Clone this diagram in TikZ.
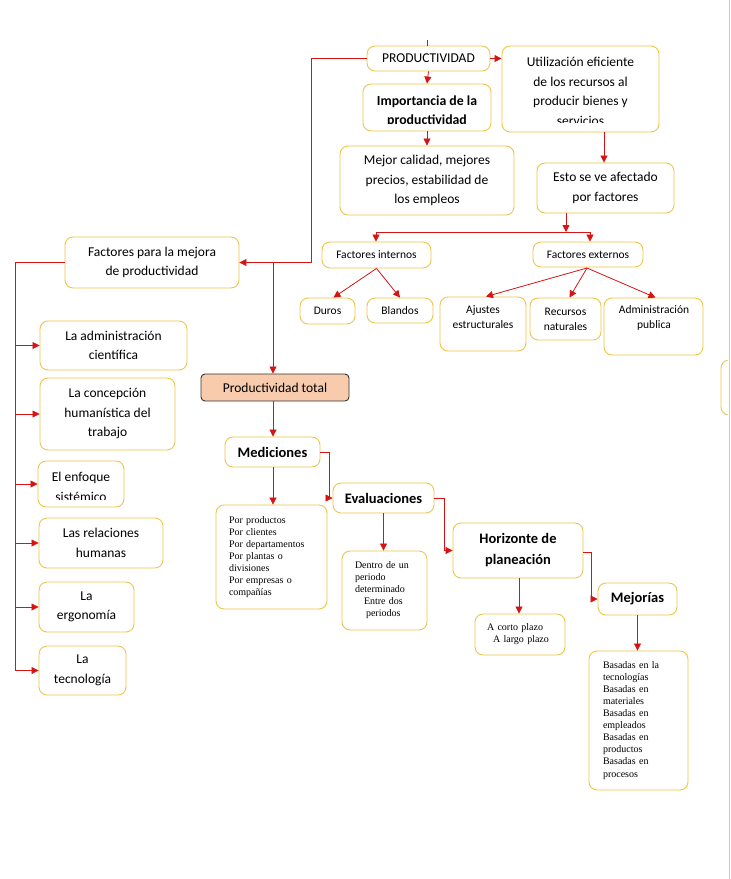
\documentclass[tikz,border=0pt]{standalone}
\usepackage{fontspec}
\setmainfont{Carlito}
\newfontfamily\tms{Liberation Serif}
\usetikzlibrary{arrows.meta,calc}
\definecolor{boxc}{RGB}{238,198,72}
\definecolor{redc}{RGB}{214,20,20}
\definecolor{peach}{RGB}{248,203,173}
\definecolor{edgegray}{RGB}{200,200,200}
\newcommand\fN{\fontsize{13.5}{19.5}\selectfont}
\newcommand\fS{\fontsize{11.5}{15}\selectfont}
\newcommand\fB{\fontsize{14.5}{21}\selectfont\bfseries}
\newcommand\fI{\fontsize{13.8}{19}\selectfont\bfseries}
\newcommand\fT{\tms\fontsize{10}{12}\selectfont}
\newcommand\bx[7]{\node[box,#6,minimum width={#4-#2},minimum height={#5-#3}] (#1) at ({(#2+#4)/2},{(#3+#5)/2}) {#7};}
\tikzset{
  box/.style={draw=boxc, rounded corners=8pt, line width=0.9pt, fill=white, inner sep=0pt, align=center, font=\fN},
  ptbox/.style={draw=black!80, fill=peach, rounded corners=4pt, line width=0.9pt},
  lbl/.style={inner sep=0pt, align=center},
  serif/.style={font=\fT, align=left, inner xsep=#1},
  ln/.style={draw=redc, line width=0.8pt},
  arr/.style={draw=redc, line width=0.8pt, -{Triangle[length=7pt,width=7pt]}}
}
\begin{document}
\begin{tikzpicture}[x=1pt,y=-1pt]
\useasboundingbox (0,0) rectangle (731,879);
\fill[white] (0,0) rectangle (731,879);
\draw[edgegray, line width=1pt] (729.5,0) -- (729.5,879);

% top
\bx{prod}{367}{46}{490}{71}{}{PRODUCTIVIDAD}
\coordinate (tick) at (427,40);
\draw[ln] (tick) -- (prod.north -| tick);

\bx{imp}{363}{84}{491}{131}{}{}
\begin{scope}
\clip (363,84) rectangle (491,123.5);
\node[lbl,font=\fI] (impt) at (427,111) {Importancia de la\\productividad};
\end{scope}

\bx{util}{502}{46}{659}{132}{}{}
\begin{scope}
\clip (502,46) rectangle (659,122.5);
\node[lbl,font=\fN] (utilt) at (580.5,91.5) {Utilización eficiente\\de los recursos al\\producir bienes y\\servicios};
\end{scope}

\bx{mej}{340}{146}{514}{215}{}{Mejor calidad, mejores\\precios, estabilidad de\\los empleos}
\bx{esto}{537}{163}{674}{213}{}{Esto se ve afectado\\por factores}

\bx{fact}{65}{237}{239}{288}{}{Factores para la mejora\\de productividad}

\bx{fint}{322}{242}{431}{268}{font=\fS}{Factores internos}
\bx{fext}{533}{242}{643}{267}{font=\fS}{Factores externos}

\bx{duros}{300}{298}{355}{324}{font=\fS}{Duros}
\bx{blandos}{367}{298}{433}{323}{font=\fS}{Blandos}
\bx{ajus}{440}{297}{526}{351}{}{}
\node[lbl,font=\fS,anchor=north] (ajust) at (483,305) {Ajustes\\estructurales};
\bx{recu}{530}{298}{601}{340}{font=\fS}{Recursos\\naturales}
\bx{admp}{604}{298}{703}{355}{}{}
\node[lbl,font=\fS,anchor=north] (admpt) at (654,305) {Administración\\publica};

% partial box at right edge
\begin{scope}
\clip (700,350) rectangle (727.5,420);
\node[box,minimum width=40,minimum height=55] (part) at (741,387.5) {};
\end{scope}

% left column
\bx{la}{40}{321}{187}{370}{}{La administración\\científica}
\bx{lb}{40}{378}{175}{450}{}{La concepción\\humanística del\\trabajo}
\bx{lc}{38}{461}{124}{507}{}{}
\begin{scope}
\clip (38,461) rectangle (124,499.5);
\node[lbl,font=\fN] (lct) at (81,487) {El enfoque\\sistémico};
\end{scope}
\bx{ld}{39}{518}{163}{568}{}{Las relaciones\\humanas}
\bx{le}{39}{582}{134}{632}{}{La\\ergonomía}
\bx{lf}{39}{646}{126}{695}{}{La\\tecnología}

% middle
\node[ptbox,minimum width=148,minimum height=27,inner sep=0pt,font=\fN] (pt) at (275,387.5) {Productividad total};
\bx{medi}{225}{437}{320}{467}{font=\fB}{Mediciones}
\bx{eval}{333}{483}{434}{513}{font=\fB}{Evaluaciones}
\bx{hori}{453}{523}{583}{578}{font=\fB}{Horizonte de\\planeación}
\bx{mejo}{598}{583}{677}{615}{font=\fB}{Mejorías}

\bx{porp}{216}{505}{327}{609}{serif=13pt,text width=85pt}{Por productos\\Por clientes\\Por departamentos\\Por plantas o\\divisiones\\Por empresas o\\compañías}
\bx{dent}{342}{551}{427}{630}{serif=13pt,text width=59pt}{Dentro de un\\periodo\\determinado\\\hspace*{9pt}Entre dos\\\hspace*{11pt}periodos}
\bx{acor}{475}{614}{565}{655}{serif=12pt,text width=66pt}{A corto plazo\\\hspace*{6pt}A largo plazo}
\bx{basa}{589}{651}{688}{790}{serif=14pt,text width=71pt}{Basadas en la\\tecnologías\\Basadas en\\materiales\\Basadas en\\empleados\\Basadas en\\productos\\Basadas en\\[1pt]procesos}

% connectors top
\draw[arr] (prod.east) -- (util.west |- prod.east);
\draw[arr] (prod.south) -- (imp.north);
\draw[arr] (imp.south) -- (mej.north);
\coordinate (cu) at (604,0);
\draw[arr] (util.south -| cu) -- (esto.north -| cu);
\coordinate (j3) at (566,232);
\coordinate (ja) at (376,232);
\coordinate (jb) at (590,232);
\draw[arr] (esto.south -| j3) -- (j3);
\draw[ln] (ja) -- (jb);
\draw[arr] (ja) -- (fint.north -| ja);
\draw[arr] (jb) -- (fext.north -| jb);
\draw[arr] (fint.south) -- ($(duros.north)+(6,0)$);
\draw[arr] (fint.south) -- (blandos.north);
\coordinate (fe) at (587,268);
\draw[arr] (fe) -- ($(ajus.north)+(3,0)$);
\draw[arr] (fe) -- ($(recu.north)+(4,0)$);
\draw[arr] (fe) -- ($(admp.north)+(2,0)$);

% left trunk
\coordinate (j1) at (311,0);
\draw[arr] (prod.west) -| (fact.east -| j1) -- (fact.east);
\coordinate (j2) at (273,0);
\draw[arr] (fact.east -| j2) -- (pt.north -| j2);
\coordinate (sp) at (15,0);
\draw[ln] (fact.west) -| (sp |- lf.west);
\foreach \n in {la,lb,lc,ld,le,lf}{
  \draw[arr] (sp |- \n.west) -- (\n.west);
}

% chain
\draw[arr] (pt.south -| j2) -- (medi.north -| j2);
\draw[arr] (medi.south -| j2) -- (porp.north -| j2);
\coordinate (k1) at (329,0);
\draw[arr] (medi.east) -| (eval.west -| k1) -- (eval.west);
\draw[arr] (eval.south) -- (dent.north -| eval.south);
\coordinate (k2) at (444,0);
\draw[arr] (eval.east) -| (hori.west -| k2) -- (hori.west);
\coordinate (k3) at (519,0);
\draw[arr] (hori.south -| k3) -- (acor.north -| k3);
\coordinate (k4) at (591,552);
\draw[arr] (hori.east |- k4) -| (mejo.west -| k4) -- (mejo.west);
\draw[arr] (mejo.south) -- (basa.north -| mejo.south);
\end{tikzpicture}
\end{document}
